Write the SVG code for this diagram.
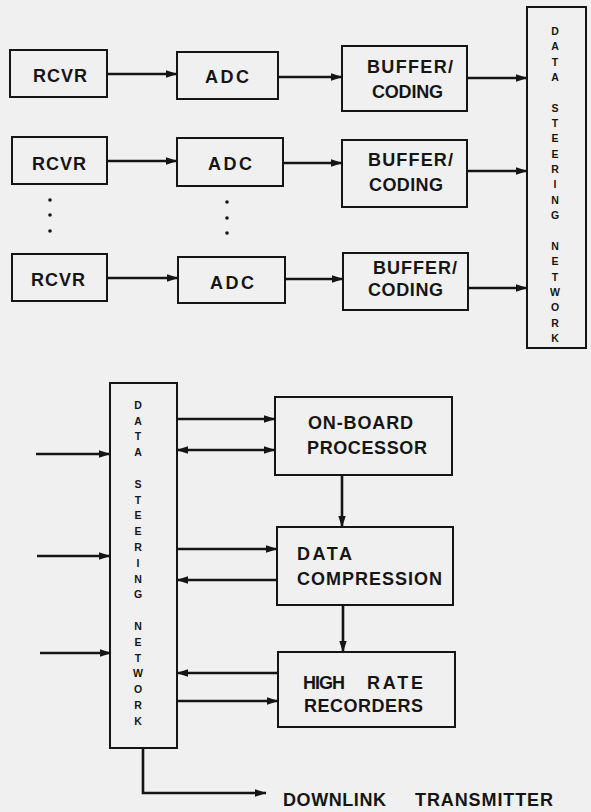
<svg xmlns="http://www.w3.org/2000/svg" width="591" height="812" viewBox="0 0 591 812">
<style>
.box{fill:none;stroke:#151515;stroke-width:2}
.lbl{font-family:"Liberation Sans",Arial,sans-serif;font-weight:bold;font-size:18px;fill:#151515}
.vl{font-family:"Liberation Sans",Arial,sans-serif;font-weight:bold;font-size:10.5px;fill:#151515;text-anchor:middle}
.c{fill:none;stroke:#151515;stroke-width:2.6}
.dot{fill:#151515}
</style>
<defs>
<marker id="ah" markerUnits="userSpaceOnUse" markerWidth="12" markerHeight="9" refX="11" refY="4.5" orient="auto-start-reverse">
<path d="M0,0.8 L11.5,4.5 L0,8.2 z" fill="#151515"/>
</marker>
</defs>
<rect width="591" height="812" fill="#f0f0f0"/>

<g id="rcvr1"><rect class="box" x="10" y="50" width="97" height="47"/><text class="lbl" x="33" y="81.5" textLength="54" lengthAdjust="spacing">RCVR</text></g>
<g id="adc1"><rect class="box" x="177" y="52" width="101" height="47"/><text class="lbl" x="205" y="82.5" textLength="44" lengthAdjust="spacing">ADC</text></g>
<g id="buf1"><rect class="box" x="342" y="46" width="125" height="65"/><text class="lbl" x="367" y="72.5" textLength="86" lengthAdjust="spacing">BUFFER/</text><text class="lbl" x="372" y="97.5" textLength="71" lengthAdjust="spacing">CODING</text></g>

<g id="rcvr2"><rect class="box" x="12" y="137" width="95" height="47"/><text class="lbl" x="32" y="169.5" textLength="54" lengthAdjust="spacing">RCVR</text></g>
<g id="adc2"><rect class="box" x="177" y="138" width="106" height="48"/><text class="lbl" x="208" y="169.5" textLength="44" lengthAdjust="spacing">ADC</text></g>
<g id="buf2"><rect class="box" x="342" y="140" width="125" height="67"/><text class="lbl" x="368" y="165.5" textLength="85" lengthAdjust="spacing">BUFFER/</text><text class="lbl" x="369" y="190.5" textLength="74" lengthAdjust="spacing">CODING</text></g>

<g id="dots"><circle class="dot" cx="50" cy="200" r="1.8"/><circle class="dot" cx="50" cy="215" r="1.8"/><circle class="dot" cx="50" cy="231" r="1.8"/><circle class="dot" cx="227" cy="202" r="1.8"/><circle class="dot" cx="227" cy="218" r="1.8"/><circle class="dot" cx="227" cy="233" r="1.8"/></g>

<g id="rcvr3"><rect class="box" x="12" y="254" width="95" height="47"/><text class="lbl" x="31" y="285.5" textLength="54" lengthAdjust="spacing">RCVR</text></g>
<g id="adc3"><rect class="box" x="178" y="257" width="107" height="46"/><text class="lbl" x="210" y="288.5" textLength="44" lengthAdjust="spacing">ADC</text></g>
<g id="buf3"><rect class="box" x="343" y="253" width="125" height="57"/><text class="lbl" x="373" y="273.5" textLength="84" lengthAdjust="spacing">BUFFER/</text><text class="lbl" x="368" y="295.5" textLength="75" lengthAdjust="spacing">CODING</text></g>

<g id="dsn-right"><rect class="box" x="527" y="7" width="59" height="341"/>
<text class="vl" x="555" y="34.8">D</text><text class="vl" x="555" y="50.2">A</text><text class="vl" x="555" y="65.5">T</text><text class="vl" x="555" y="80.9">A</text>
<text class="vl" x="555" y="111.6">S</text><text class="vl" x="555" y="126.9">T</text><text class="vl" x="555" y="142.3">E</text><text class="vl" x="555" y="157.6">E</text><text class="vl" x="555" y="173">R</text><text class="vl" x="555" y="188.3">I</text><text class="vl" x="555" y="203.7">N</text><text class="vl" x="555" y="219.1">G</text>
<text class="vl" x="555" y="249.7">N</text><text class="vl" x="555" y="265.1">E</text><text class="vl" x="555" y="280.5">T</text><text class="vl" x="555" y="295.8">W</text><text class="vl" x="555" y="311.2">O</text><text class="vl" x="555" y="326.5">R</text><text class="vl" x="555" y="341.8">K</text>
</g>

<g id="dsn-left"><rect class="box" x="110" y="383" width="67" height="365"/>
<text class="vl" x="138" y="408.8">D</text><text class="vl" x="138" y="424.6">A</text><text class="vl" x="138" y="440.4">T</text><text class="vl" x="138" y="456.2">A</text>
<text class="vl" x="138" y="487.8">S</text><text class="vl" x="138" y="503.6">T</text><text class="vl" x="138" y="519.4">E</text><text class="vl" x="138" y="535.2">E</text><text class="vl" x="138" y="551">R</text><text class="vl" x="138" y="566.8">I</text><text class="vl" x="138" y="582.6">N</text><text class="vl" x="138" y="598.4">G</text>
<text class="vl" x="138" y="630">N</text><text class="vl" x="138" y="645.8">E</text><text class="vl" x="138" y="661.6">T</text><text class="vl" x="138" y="677.4">W</text><text class="vl" x="138" y="693.2">O</text><text class="vl" x="138" y="709">R</text><text class="vl" x="138" y="724.8">K</text>
</g>

<g id="obp"><rect class="box" x="275" y="397" width="177" height="78"/><text class="lbl" x="308" y="428.5" textLength="105" lengthAdjust="spacing">ON-BOARD</text><text class="lbl" x="307" y="453.5" textLength="120" lengthAdjust="spacing">PROCESSOR</text></g>
<g id="dc"><rect class="box" x="277" y="527" width="176" height="78"/><text class="lbl" x="297" y="559.5" textLength="55" lengthAdjust="spacing">DATA</text><text class="lbl" x="297" y="584.5" textLength="145" lengthAdjust="spacing">COMPRESSION</text></g>
<g id="hrr"><rect class="box" x="278" y="652" width="177" height="75"/><text class="lbl" x="303" y="688.5" textLength="42" lengthAdjust="spacing">HIGH</text><text class="lbl" x="367" y="688.5" textLength="56" lengthAdjust="spacing">RATE</text><text class="lbl" x="304" y="711.5" textLength="119" lengthAdjust="spacing">RECORDERS</text></g>
<g id="downlink"><text class="lbl" x="283" y="806" textLength="103" lengthAdjust="spacing">DOWNLINK</text><text class="lbl" x="415" y="806" textLength="138" lengthAdjust="spacing">TRANSMITTER</text></g>

<g id="connectors">
<line class="c" x1="107" y1="74" x2="177" y2="74" marker-end="url(#ah)"/>
<line class="c" x1="278" y1="77" x2="342" y2="77" marker-end="url(#ah)"/>
<line class="c" x1="467" y1="78" x2="527" y2="78" marker-end="url(#ah)"/>
<line class="c" x1="107" y1="161" x2="177" y2="161" marker-end="url(#ah)"/>
<line class="c" x1="283" y1="163" x2="342" y2="163" marker-end="url(#ah)"/>
<line class="c" x1="467" y1="171" x2="527" y2="171" marker-end="url(#ah)"/>
<line class="c" x1="107" y1="278" x2="178" y2="278" marker-end="url(#ah)"/>
<line class="c" x1="285" y1="279" x2="343" y2="279" marker-end="url(#ah)"/>
<line class="c" x1="468" y1="288" x2="527" y2="288" marker-end="url(#ah)"/>
<line class="c" x1="36" y1="454" x2="110" y2="454" marker-end="url(#ah)"/>
<line class="c" x1="37" y1="556" x2="110" y2="556" marker-end="url(#ah)"/>
<line class="c" x1="40" y1="653" x2="111" y2="653" marker-end="url(#ah)"/>
<line class="c" x1="177" y1="419" x2="275" y2="419" marker-end="url(#ah)"/>
<line class="c" x1="177" y1="450" x2="275" y2="450" marker-start="url(#ah)" marker-end="url(#ah)"/>
<line class="c" x1="177" y1="549" x2="277" y2="549" marker-end="url(#ah)"/>
<line class="c" x1="277" y1="580" x2="177" y2="580" marker-end="url(#ah)"/>
<line class="c" x1="342" y1="475" x2="342" y2="527" marker-end="url(#ah)"/>
<line class="c" x1="343" y1="605" x2="343" y2="652" marker-end="url(#ah)"/>
<line class="c" x1="278" y1="673" x2="177" y2="673" marker-end="url(#ah)"/>
<line class="c" x1="177" y1="701" x2="278" y2="701" marker-end="url(#ah)"/>
<path class="c" d="M143,748 V793 H266" marker-end="url(#ah)"/>
</g>
</svg>
